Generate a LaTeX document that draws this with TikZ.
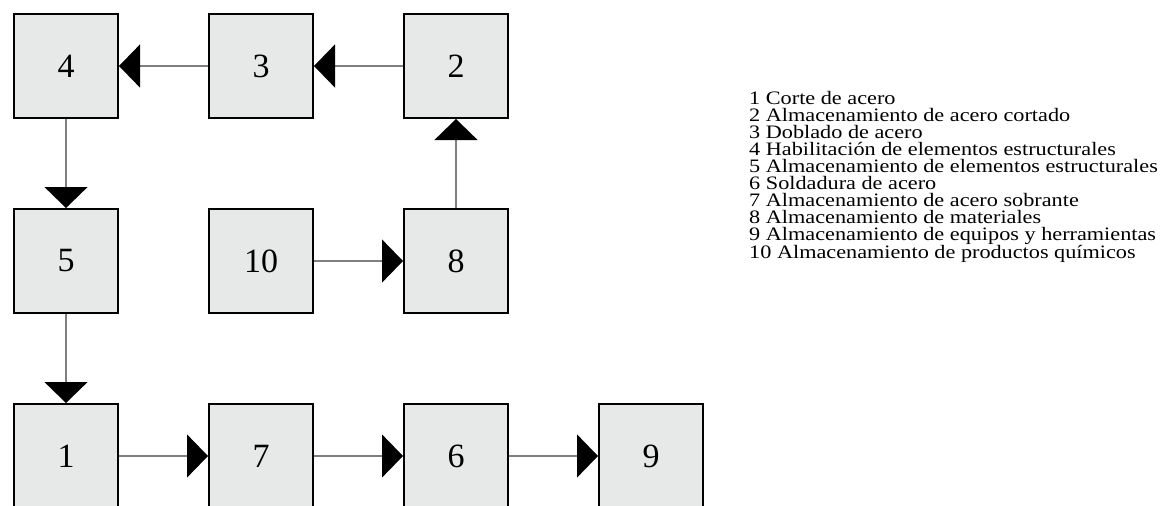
\documentclass[tikz,border=0pt]{standalone}
\usepackage{fontspec}
\setmainfont{Liberation Serif}
\usetikzlibrary{arrows.meta}
\definecolor{boxfill}{HTML}{E7E8E8}
\definecolor{linegray}{HTML}{7F7F7F}
\begin{document}
\begin{tikzpicture}[x=1pt,y=-1pt,
  blk/.style={draw=black, line width=2pt, fill=boxfill, minimum width=104pt, minimum height=104pt, inner sep=0pt, font=\fontsize{34}{40}\selectfont},
  flow/.style={draw=linegray, line width=1.2pt, -{Triangle[length=21pt,width=43pt,black]}}]
\useasboundingbox (0,0) rectangle (1163,506);
\clip (0,0) rectangle (1163,506);
\node[blk] (n4) at (66,66) {4};
\node[blk] (n3) at (261,66) {3};
\node[blk] (n2) at (456,66) {2};
\node[blk] (n5) at (66,261) {5};
\node[blk] (n10) at (261,261) {10};
\node[blk] (n8) at (456,261) {8};
\node[blk] (n1) at (66,456) {1};
\node[blk] (n7) at (261,456) {7};
\node[blk] (n6) at (456,456) {6};
\node[blk] (n9) at (651,456) {9};
\draw[flow] (n3) -- (n4);
\draw[flow] (n2) -- (n3);
\draw[flow] (n4) -- (n5);
\draw[flow] (n5) -- (n1);
\draw[flow] (n10) -- (n8);
\draw[flow] (n8) -- (n2);
\draw[flow] (n1) -- (n7);
\draw[flow] (n7) -- (n6);
\draw[flow] (n6) -- (n9);
\node[anchor=north west, align=left, inner sep=0pt, xscale=1.17, transform shape,
  font=\fontsize{19}{17}\selectfont] (legend) at (749,91) {1 Corte de acero\\
2 Almacenamiento de acero cortado\\
3 Doblado de acero\\
4 Habilitación de elementos estructurales\\
5 Almacenamiento de elementos estructurales\\
6 Soldadura de acero\\
7 Almacenamiento de acero sobrante\\
8 Almacenamiento de materiales\\
9 Almacenamiento de equipos y herramientas\\
10 Almacenamiento de productos químicos};
\end{tikzpicture}
\end{document}
